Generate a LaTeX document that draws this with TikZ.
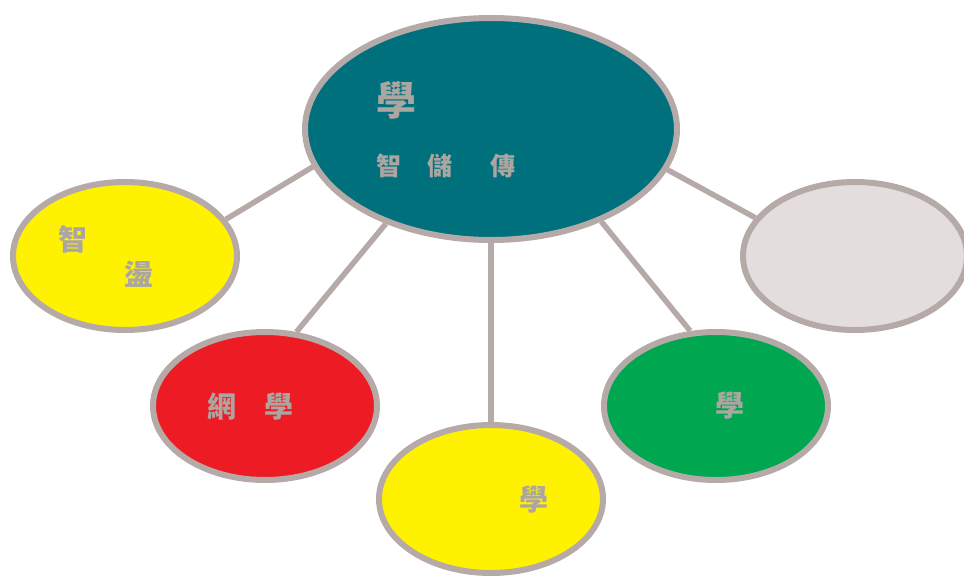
\documentclass[tikz,border=0pt]{standalone}
\usepackage{fontspec}
\newfontfamily\cjk{Noto Sans CJK TC}
\usepackage{tikz}
\usetikzlibrary{shapes.geometric}
\usetikzlibrary{backgrounds}
\definecolor{rim}{RGB}{181,170,167}
\definecolor{labelgray}{RGB}{172,166,163}
\definecolor{tealfill}{RGB}{0,112,125}
\definecolor{yellowfill}{RGB}{255,242,0}
\definecolor{redfill}{RGB}{237,28,36}
\definecolor{greenfill}{RGB}{0,166,80}
\definecolor{palefill}{RGB}{227,222,221}
\tikzset{
  bubble/.style = {ellipse, draw=rim, line width=6pt, inner sep=0pt},
  main_node/.style = {bubble, fill=tealfill, minimum width=372pt,
    minimum height=222pt},
  leaf_node/.style = {bubble, minimum width=224pt, minimum height=148pt},
  link/.style = {draw=rim, line width=5.5pt},
  glyph/.style = {inner sep=0pt, text=labelgray,
    font=\cjk\bfseries\fontsize{29}{29}\selectfont},
  big_glyph/.style = {glyph, font=\cjk\bfseries\fontsize{40}{40}\selectfont},
  small_glyph/.style = {glyph, font=\cjk\bfseries\fontsize{25}{25}\selectfont}
}
\begin{document}
\begin{tikzpicture}[x=1pt, y=-1pt]
  \useasboundingbox (0,0) rectangle (964,576);
  \node (hub) [main_node] at (491,129) {};
  \node (west) [leaf_node, fill=yellowfill] at (125,256) {};
  \node (net) [leaf_node, fill=redfill] at (265,406) {};
  \node (south) [leaf_node, fill=yellowfill] at (491,499) {};
  \node (green) [leaf_node, fill=greenfill] at (716,406) {};
  \node (east) [leaf_node, fill=palefill] at (855,256) {};
  \begin{scope}[on background layer]
    \draw [link] (hub.192) -- (west.20);
    \draw [link] (hub.222) -- (net.67);
    \draw [link] (hub.south) -- (south.north);
    \draw [link] (hub.320) -- (green.109);
    \draw [link] (hub.347) -- (east.159);
  \end{scope}
  \node (hub title) [big_glyph] at (396,100) {學};
  \node (hub a) [small_glyph] at (389,166) {智};
  \node (hub b) [small_glyph] at (440,166) {儲};
  \node (hub c) [small_glyph] at (503,166) {傳};
  \node (west a) [glyph] at (73,239) {智};
  \node (west b) [glyph] at (139,274) {盪};
  \node (net a) [glyph] at (222,407) {網};
  \node (net b) [glyph] at (279,407) {學};
  \node (south a) [glyph] at (534,500) {學};
  \node (green a) [glyph] at (730,406) {學};
\end{tikzpicture}
\end{document}
